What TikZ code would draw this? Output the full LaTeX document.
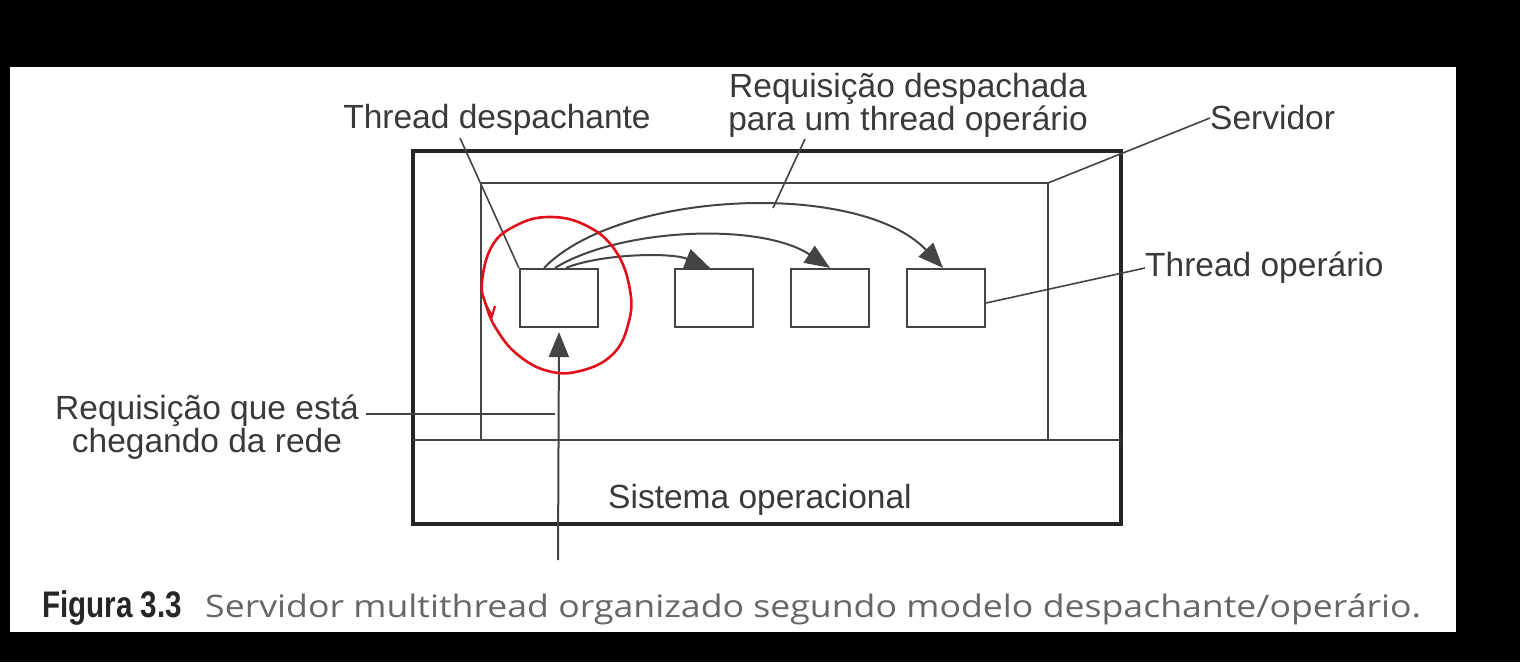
\documentclass[tikz,border=0pt]{standalone}
\usepackage{fontspec}
\setmainfont{Liberation Sans}
\newfontfamily\capbold{Liberation Sans}[FakeStretch=0.8]
\newfontfamily\caplight{Open Sans}[FakeStretch=1.15]
\usetikzlibrary{arrows.meta}
\definecolor{ink}{HTML}{3A3A3A}
\definecolor{lineg}{HTML}{444444}
\definecolor{pen}{HTML}{E0101A}
\tikzset{
  lbl/.style={text=ink, font=\fontsize{33.5}{30}\selectfont, inner sep=0pt, align=center},
  thin/.style={draw=lineg, line width=1.6pt},
  thick/.style={draw=black!85, line width=3.4pt},
  tbox/.style={draw=lineg, line width=2.2pt, minimum width=78pt, minimum height=58pt, inner sep=0pt},
  arr/.style={draw=lineg, line width=2pt, -{Triangle[length=25pt,width=20pt]}},
}
\begin{document}
\begin{tikzpicture}[x=1pt,y=-1pt]
\useasboundingbox (0,0) rectangle (1520,662);
\fill[black] (0,0) rectangle (1520,662);
\fill[white] (10,67) rectangle (1456,632);
% outer box (server machine)
\node[thick, minimum width=708pt, minimum height=373pt, inner sep=0pt] (srv) at (767,337.5) {};
% OS separator
\coordinate (osl) at (413,440);
\coordinate (osr) at (1121,440);
\draw[thin] (osl) -- (osr);
% inner server process
\coordinate (pbl) at (481,440);
\coordinate (ptl) at (481,183);
\coordinate (ptr) at (1048,183);
\coordinate (pbr) at (1048,440);
\draw[thin] (pbl) -- (ptl) -- (ptr) -- (pbr);
\node[lbl] (os) at (760,500) {Sistema operacional};
% threads
\node[tbox] (d) at (559,298) {};
\node[tbox] (w1) at (714,298) {};
\node[tbox] (w2) at (830,298) {};
\node[tbox] (w3) at (946,298) {};
% dispatch arrows
\draw[arr] ([xshift=7pt]d.north) .. controls (600,254) and (670,252) .. ([xshift=-4pt]w1.north);
\draw[arr] ([xshift=-4pt]d.north) .. controls (620,228) and (760,222) .. ([xshift=0pt]w2.north);
\draw[arr] ([xshift=-15pt]d.north) .. controls (620,190) and (860,180) .. ([xshift=-3pt]w3.north);
% incoming request arrow
\coordinate (netin) at (558,560);
\draw[arr] (netin) -- ([yshift=-4pt]d.south);
% labels
\node[lbl] (ltd) at (497,120) {Thread despachante};
\node[lbl] (lrd) at (908,105) {Requisição despachada\\para um thread operário};
\node[lbl, anchor=west] (lsv) at (1210,118) {Servidor};
\node[lbl, anchor=west] (lto) at (1145,268) {Thread operário};
\node[lbl] (lrq) at (207,427) {Requisição que está\\chegando da rede};
% leader lines
\coordinate (arcpt) at (773,208);
\draw[thin] (460,138) -- (d.north west);
\draw[thin] (805,139) -- (arcpt);
\draw[thin] (lsv.west) -- (ptr);
\draw[thin] (lto.west) -- ([yshift=-5pt]w3.east);
\coordinate (rqend) at (555,414);
\draw[thin] (366,414) -- (rqend);
% red hand-drawn loop
\draw[pen, line width=2.6pt] plot[smooth cycle, tension=0.7] coordinates {
  (482,282) (492,246) (515,226) (548,217) (585,225) (615,250) (630,290)
  (628,325) (612,355) (580,371) (548,371) (518,355) (497,330) (486,305)};
\draw[pen, line width=2.2pt] (486,305) -- (492,316) -- (495,306);
% caption
\node[anchor=base west, inner sep=0pt, text=black!85, font=\capbold\bfseries\fontsize{37}{38}\selectfont] (capn) at (42,617) {Figura 3.3};
\node[anchor=base west, inner sep=0pt, text=black!60, font=\caplight\fontsize{31}{34}\selectfont] (capt) at (205,617) {Servidor multithread organizado segundo modelo despachante/operário.};
\end{tikzpicture}
\end{document}
